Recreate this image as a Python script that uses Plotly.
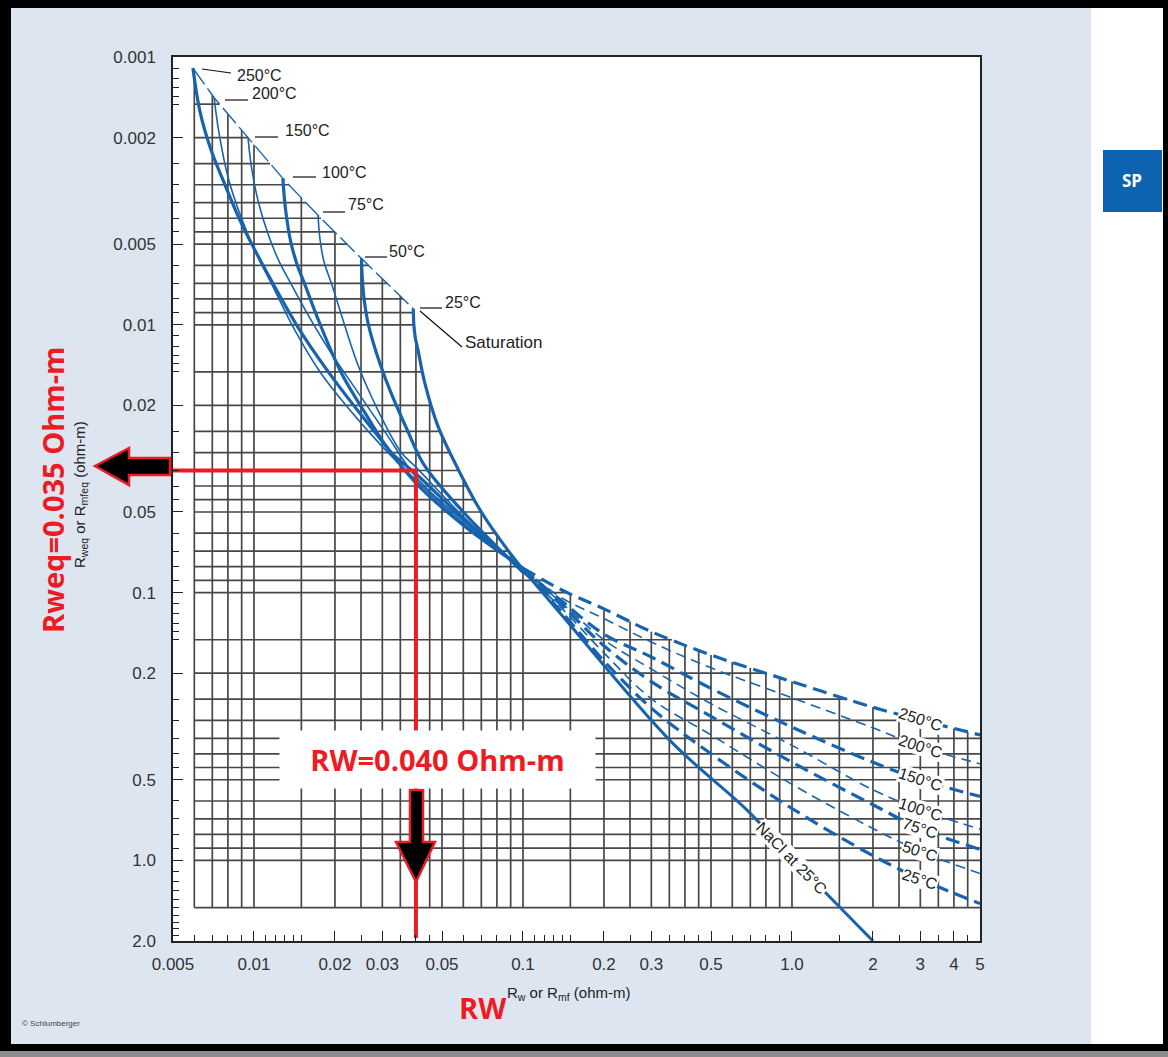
import numpy as np
import plotly.graph_objects as go

# ---------------- data ----------------
X_TICKS = [0.005, 0.01, 0.02, 0.03, 0.05, 0.1, 0.2, 0.3, 0.5, 1.0, 2, 3, 4, 5]
X_TICK_TEXT = ["0.005", "0.01", "0.02", "0.03", "0.05", "0.1", "0.2", "0.3", "0.5", "1.0", "2", "3", "4", "5"]
Y_TICKS = [0.001, 0.002, 0.005, 0.01, 0.02, 0.05, 0.1, 0.2, 0.5, 1.0, 2.0]
Y_TICK_TEXT = ["0.001", "0.002", "0.005", "0.01", "0.02", "0.05", "0.1", "0.2", "0.5", "1.0", "2.0"]
X_MINOR = [0.006, 0.007, 0.008, 0.009, 0.011, 0.012, 0.013, 0.014, 0.015, 0.025, 0.035, 0.04,
           0.045, 0.06, 0.07, 0.08, 0.09, 0.11, 0.12, 0.13, 0.14, 0.15, 0.25, 0.35, 0.4, 0.45,
           0.6, 0.7, 0.8, 0.9, 1.5, 2.5, 3.5, 4.5]
Y_MINOR = [0.0011, 0.0012, 0.0013, 0.0014, 0.0015, 0.0025, 0.003, 0.0035, 0.004, 0.0045, 0.006,
           0.007, 0.008, 0.009, 0.011, 0.012, 0.013, 0.014, 0.015, 0.025, 0.03, 0.035, 0.04, 0.045,
           0.06, 0.07, 0.08, 0.09, 0.11, 0.12, 0.13, 0.14, 0.15, 0.25, 0.3, 0.35, 0.4, 0.45, 0.6,
           0.7, 0.8, 0.9, 1.1, 1.2, 1.3, 1.4, 1.5, 1.6, 1.7, 1.8, 1.9]

GRID_X = [0.006, 0.007, 0.008, 0.009, 0.01, 0.015, 0.02, 0.025, 0.03, 0.035, 0.04, 0.045, 0.05,
          0.06, 0.07, 0.08, 0.09, 0.1, 0.15, 0.2, 0.25, 0.3, 0.35, 0.4, 0.45, 0.5, 0.6, 0.7, 0.8,
          0.9, 1.0, 1.5, 2.0, 2.5, 3.0, 3.5, 4.0, 4.5]
GRID_Y = [0.0015, 0.002, 0.0025, 0.003, 0.0035, 0.004, 0.0045, 0.005, 0.006, 0.007, 0.008, 0.009,
          0.01, 0.015, 0.02, 0.025, 0.03, 0.035, 0.04, 0.045, 0.05, 0.06, 0.07, 0.08, 0.09, 0.1,
          0.15, 0.2, 0.25, 0.3, 0.35, 0.4, 0.45, 0.5, 0.6, 0.7, 0.8, 0.9, 1.0, 1.5]
GRID_LEFT = 0.006
GRID_BOTTOM = 1.5

TEMP_LABELS = ["250°C", "200°C", "150°C", "100°C", "75°C", "50°C", "25°C"]

# saturation line (one point per temperature)
SAT_RW = [0.00593, 0.00711, 0.0095, 0.0128, 0.0173, 0.0251, 0.0391]
SAT_RWEQ = [0.00110, 0.00142, 0.0020, 0.00284, 0.0039, 0.00566, 0.0087]

# solid (low-Rw) branches
RW_250 = [0.00593, 0.0063, 0.0069, 0.0078, 0.009, 0.011, 0.015, 0.02, 0.028, 0.04, 0.06, 0.1]
RWEQ_250 = [0.0011, 0.0016, 0.0022, 0.0030, 0.0042, 0.0062, 0.0107, 0.0162, 0.025, 0.039, 0.056, 0.081]
RW_200 = [0.00711, 0.0074, 0.008, 0.0089, 0.0101, 0.0116, 0.0142, 0.0176, 0.022, 0.03, 0.04, 0.06, 0.1]
RWEQ_200 = [0.00142, 0.0019, 0.0028, 0.0039, 0.0053, 0.0070, 0.0105, 0.0150, 0.0200, 0.0285, 0.038, 0.055, 0.0815]
RW_150 = [0.0095, 0.0098, 0.0104, 0.0113, 0.0124, 0.0137, 0.016, 0.0194, 0.024, 0.031, 0.04, 0.06, 0.1]
RWEQ_150 = [0.0020, 0.0026, 0.0035, 0.0046, 0.0058, 0.0070, 0.0093, 0.0128, 0.0175, 0.0255, 0.037, 0.054, 0.082]
RW_100 = [0.0128, 0.0131, 0.0137, 0.0145, 0.0154, 0.0175, 0.0211, 0.026, 0.0324, 0.04, 0.06, 0.1]
RWEQ_100 = [0.00284, 0.0037, 0.0049, 0.0060, 0.0070, 0.0098, 0.0151, 0.0215, 0.030, 0.036, 0.053, 0.0825]
RW_75 = [0.0173, 0.0176, 0.0182, 0.0194, 0.021, 0.0244, 0.029, 0.0353, 0.04, 0.06, 0.1]
RWEQ_75 = [0.0039, 0.0048, 0.0058, 0.0070, 0.0090, 0.0142, 0.0210, 0.030, 0.034, 0.052, 0.083]
RW_50 = [0.0251, 0.0253, 0.0257, 0.0264, 0.0275, 0.0295, 0.0325, 0.037, 0.043, 0.06, 0.1]
RWEQ_50 = [0.00566, 0.0068, 0.0081, 0.0096, 0.0113, 0.0141, 0.0182, 0.0245, 0.0335, 0.050, 0.084]
RW_25 = [0.0391, 0.0393, 0.0398, 0.0407, 0.0431, 0.0483, 0.0574, 0.07, 0.0906, 0.1]
RWEQ_25 = [0.0087, 0.0100, 0.0112, 0.0124, 0.0164, 0.0239, 0.0346, 0.050, 0.0724, 0.082]

# dashed (high-Rw) branches, common Rw positions
DASH_RW = [0.1, 0.14, 0.2, 0.3, 0.5, 1.0, 2.0, 3.0, 5.0]
DASH_250 = [0.081, 0.098, 0.115, 0.140, 0.171, 0.215, 0.268, 0.299, 0.340]
DASH_200 = [0.0815, 0.105, 0.125, 0.153, 0.191, 0.247, 0.320, 0.376, 0.436]
DASH_150 = [0.082, 0.108, 0.143, 0.174, 0.228, 0.318, 0.430, 0.499, 0.577]
DASH_100 = [0.0825, 0.110, 0.150, 0.193, 0.260, 0.372, 0.545, 0.646, 0.765]
DASH_75 = [0.083, 0.112, 0.158, 0.215, 0.290, 0.430, 0.620, 0.760, 0.910]
DASH_50 = [0.084, 0.115, 0.168, 0.249, 0.340, 0.520, 0.760, 0.925, 1.120]
DASH_25 = [0.082, 0.119, 0.180, 0.270, 0.400, 0.640, 0.960, 1.175, 1.450]

# NaCl at 25 degC
NACL_RW = [0.1, 0.139, 0.356, 0.678, 1.0, 2.0]
NACL_RWEQ = [0.082, 0.121, 0.361, 0.646, 0.98, 2.0]

# worked example
EX_RW = 0.040
EX_RWEQ = 0.035

# ---------------- layout geometry ----------------
W, H = 1168, 1057
L, R, T, B = 173, 980, 57, 941
PW, PH = R - L, B - T


def px(X):
    return (X - L) / PW


def py(Y):
    return (B - Y) / PH


BLUE = "#1763ad"
RED = "#ec1c24"
GRIDC = "#474747"
THICK, THIN = 3.2, 1.6

solid = [(RW_250, RWEQ_250), (RW_200, RWEQ_200), (RW_150, RWEQ_150), (RW_100, RWEQ_100),
         (RW_75, RWEQ_75), (RW_50, RWEQ_50), (RW_25, RWEQ_25)]
dashed = [DASH_250, DASH_200, DASH_150, DASH_100, DASH_75, DASH_50, DASH_25]
solid_w = [THICK, THIN, THIN, THICK, THIN, THICK, THICK]
dash_w = [THICK, THIN, THICK, THIN, THICK, THIN, THICK]

# ---------------- grid limited by the upper envelope of the curves ----------------
all_curves = [(SAT_RW, SAT_RWEQ), (NACL_RW, NACL_RWEQ)] + solid + [(DASH_RW, d) for d in dashed]
logc = [(np.log10(a), np.log10(b)) for a, b in all_curves]


def envelope(lx):
    vals = [np.interp(lx, cx, cy, left=np.nan, right=np.nan) for cx, cy in logc]
    return np.nanmin(np.vstack(vals), axis=0)


lx_s = np.linspace(np.log10(SAT_RW[0]), np.log10(5.0), 3000)
env_s = np.maximum.accumulate(envelope(lx_s))

gx_list, gy_list = [], []
for gx in GRID_X:
    top = 10 ** float(np.interp(np.log10(gx), lx_s, env_s))
    gx_list += [gx, gx, None]
    gy_list += [GRID_BOTTOM, top, None]
for gy in GRID_Y:
    right = 10 ** float(np.interp(np.log10(gy), env_s, lx_s))
    if right <= GRID_LEFT:
        continue
    gx_list += [GRID_LEFT, right, None]
    gy_list += [gy, gy, None]

fig = go.Figure()
fig.add_trace(go.Scatter(x=gx_list, y=gy_list, mode="lines",
                         line=dict(color=GRIDC, width=1.7), hoverinfo="skip", showlegend=False))

# saturation line
fig.add_trace(go.Scatter(x=SAT_RW, y=SAT_RWEQ, mode="lines",
                         line=dict(color=BLUE, width=1.4, dash="20px,5px"), showlegend=False))

for (rw, rq), w in zip(solid, solid_w):
    fig.add_trace(go.Scatter(x=rw, y=rq, mode="lines", line=dict(color=BLUE, width=w, shape="spline"),
                             showlegend=False))
for d, w in zip(dashed, dash_w):
    dash = "14px,7px" if w == THICK else "10px,6px"
    fig.add_trace(go.Scatter(x=DASH_RW, y=d, mode="lines",
                             line=dict(color=BLUE, width=w, dash=dash, shape="spline"), showlegend=False))
fig.add_trace(go.Scatter(x=NACL_RW, y=NACL_RWEQ, mode="lines",
                         line=dict(color=BLUE, width=3.0, shape="spline"), showlegend=False))

# worked example red lines
fig.add_trace(go.Scatter(x=[X_TICKS[0], EX_RW], y=[EX_RWEQ, EX_RWEQ], mode="lines",
                         line=dict(color=RED, width=4), showlegend=False))
fig.add_trace(go.Scatter(x=[EX_RW, EX_RW], y=[EX_RWEQ, 1.95], mode="lines",
                         line=dict(color=RED, width=4), showlegend=False))

shapes = []
# page background pieces
shapes.append(dict(type="rect", xref="paper", yref="paper", x0=px(11), x1=px(1091), y0=py(1044), y1=py(8),
                   fillcolor="#dde5f1", line=dict(width=0), layer="below"))
shapes.append(dict(type="rect", xref="paper", yref="paper", x0=px(1091), x1=px(1163), y0=py(1044), y1=py(8),
                   fillcolor="white", line=dict(width=0), layer="below"))
shapes.append(dict(type="rect", xref="paper", yref="paper", x0=px(0), x1=px(1168), y0=py(1057), y1=py(1051),
                   fillcolor="#8c8c8c", line=dict(width=0), layer="below"))
shapes.append(dict(type="rect", xref="paper", yref="paper", x0=0, x1=1, y0=0, y1=1,
                   fillcolor="white", line=dict(width=0), layer="below"))
# SP tab
shapes.append(dict(type="rect", xref="paper", yref="paper", x0=px(1103), x1=px(1162), y0=py(212), y1=py(150),
                   fillcolor="#0e63b0", line=dict(width=0), layer="below"))

# leader lines for top labels
leaders = [((202, 69), (231, 73)), ((225, 100), (248, 100)), ((255, 137), (278, 137)),
           ((293, 177), (316, 177)), ((323, 212), (345, 212)), ((365, 257), (387, 257)),
           ((420, 308), (442, 308)), ((420, 311), (462, 347))]
for (a, b) in leaders:
    shapes.append(dict(type="line", xref="paper", yref="paper", x0=px(a[0]), y0=py(a[1]),
                       x1=px(b[0]), y1=py(b[1]), line=dict(color="#111", width=1.2), layer="above"))


def path(points):
    return "M " + " L ".join(f"{px(X):.5f},{py(Y):.5f}" for X, Y in points) + " Z"


left_arrow = [(95, 466), (129, 448), (129, 458), (170, 458), (170, 475), (129, 475), (129, 485)]
down_arrow = [(410, 790), (423, 790), (423, 842), (435, 842), (416, 882), (396, 842), (410, 842)]
for pts in (left_arrow, down_arrow):
    shapes.append(dict(type="path", xref="paper", yref="paper", path=path(pts),
                       fillcolor="black", line=dict(color=RED, width=2.5), layer="above"))

FONT = "Liberation Sans, Arial, sans-serif"
ann = []
top_pos = [(235, 75), (250, 94), (283, 130), (320, 172), (346, 205), (387, 251), (443, 302)]
for lab, (X, Y) in zip(TEMP_LABELS, top_pos):
    ann.append(dict(xref="paper", yref="paper", x=px(X), y=py(Y), text=lab, showarrow=False,
                    xanchor="left", yanchor="middle", font=dict(family=FONT, size=16, color="#222")))
ann.append(dict(xref="paper", yref="paper", x=px(463), y=py(343), text="Saturation", showarrow=False,
                xanchor="left", yanchor="middle", font=dict(family=FONT, size=17, color="#222")))
# right-hand labels on the dashed curves at Rw = 3
i3 = DASH_RW.index(3.0)
for lab, d in zip(TEMP_LABELS, dashed):
    ann.append(dict(x=np.log10(3.0), y=np.log10(d[i3]), text=lab, showarrow=False, textangle=18,
                    xanchor="center", yanchor="middle",
                    bgcolor="white", borderpad=0, font=dict(family=FONT, size=16, color="#222")))
ann.append(dict(x=np.log10(1.0), y=np.log10(NACL_RWEQ[4]), text="NaCl at 25°C", showarrow=False,
                textangle=46, xanchor="center", yanchor="middle",
                bgcolor="white", borderpad=0, font=dict(family=FONT, size=16, color="#222")))

ann.append(dict(xref="paper", yref="paper", x=px(437), y=py(759), text="RW=0.040 Ohm-m", showarrow=False,
                xanchor="center", yanchor="middle", width=315, height=57, bgcolor="white", borderpad=0,
                font=dict(family="Open Sans", size=29, color=RED, weight="bold")))
ann.append(dict(xref="paper", yref="paper", x=px(52), y=py(490), text="Rweq=0.035 Ohm-m", showarrow=False,
                xanchor="center", yanchor="middle", textangle=-90,
                font=dict(family="Open Sans", size=29, color=RED, weight="bold")))
ann.append(dict(xref="paper", yref="paper", x=px(80), y=py(495),
                text="R<sub>weq</sub> or R<sub>mfeq</sub> (ohm-m)", showarrow=False, textangle=-90,
                xanchor="center", yanchor="middle", font=dict(family=FONT, size=15, color="#222")))
ann.append(dict(xref="paper", yref="paper", x=px(568), y=py(993),
                text="R<sub>w</sub> or R<sub>mf</sub> (ohm-m)", showarrow=False,
                xanchor="center", yanchor="middle", font=dict(family=FONT, size=15, color="#222")))
ann.append(dict(xref="paper", yref="paper", x=px(483), y=py(1007), text="RW", showarrow=False,
                xanchor="center", yanchor="middle",
                font=dict(family="Open Sans", size=29, color=RED, weight="bold")))
ann.append(dict(xref="paper", yref="paper", x=px(20), y=py(1023), text="© Schlumberger", showarrow=False,
                xanchor="left", yanchor="middle", font=dict(family=FONT, size=8, color="#444")))
ann.append(dict(xref="paper", yref="paper", x=px(1132), y=py(181), text="SP", showarrow=False,
                xanchor="center", yanchor="middle",
                font=dict(family="Open Sans", size=17, color="white", weight="bold")))

axis_common = dict(type="log", showgrid=False, zeroline=False, showline=True, linecolor="#222",
                   linewidth=1.5, mirror=True, ticks="inside", ticklen=10, tickwidth=1, tickcolor="#222",
                   tickmode="array", tickfont=dict(family=FONT, size=17, color="#333"))

fig.update_layout(
    width=W, height=H, margin=dict(l=L, r=W - R, t=T, b=H - B),
    paper_bgcolor="black", plot_bgcolor="white", showlegend=False,
    xaxis=dict(**axis_common, range=[np.log10(0.005), np.log10(5)], tickvals=X_TICKS,
               ticktext=X_TICK_TEXT, ticklabelstandoff=7,
               minor=dict(ticks="inside", ticklen=6, tickwidth=1, tickcolor="#222", tickmode="array",
                          tickvals=X_MINOR, showgrid=False)),
    yaxis=dict(**axis_common, range=[np.log10(2.0), np.log10(0.001)], tickvals=Y_TICKS,
               ticktext=Y_TICK_TEXT, ticklabelstandoff=12,
               minor=dict(ticks="inside", ticklen=6, tickwidth=1, tickcolor="#222", tickmode="array",
                          tickvals=Y_MINOR, showgrid=False)),
    shapes=shapes, annotations=ann,
)

fig.write_html("out.html", config={"displayModeBar": False},
               post_script="document.body.style.margin='0px';document.body.style.background='black';")
